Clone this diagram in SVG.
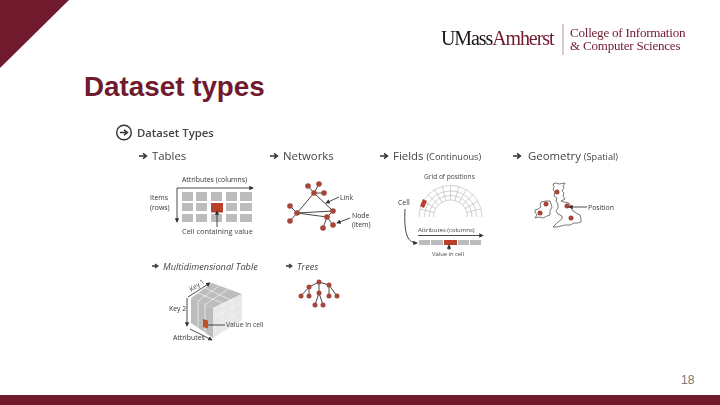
<svg xmlns="http://www.w3.org/2000/svg" width="720" height="405" viewBox="0 0 720 405">
<style>
.s{font-family:"Open Sans","Liberation Sans",sans-serif;fill:#444}
.h{font-size:11.400px}.c{font-size:9.200px}.t{font-size:6.900px;fill:#333}
.l{stroke:#333;stroke-width:.9;fill:none}
.g{fill:#bcbcbc}.r{fill:#b9412a}.n{fill:#a8443a}
.u{font-family:"Liberation Serif",serif}
</style>
<defs>
<marker id="a" viewBox="0 0 6 6" refX="5" refY="3" markerWidth="5" markerHeight="5" orient="auto"><path d="M0 0L6 3L0 6z" fill="#333"/></marker>
<path id="ar" d="M-4 0H2M0-2.600L3.500 0L0 2.600" fill="none" stroke="#333" stroke-width="1.400"/>
<path id="as" d="M-3 0H1.500M0-2L2.800 0L0 2" fill="none" stroke="#333" stroke-width="1.300"/>
<filter id="b" x="-5%" y="-5%" width="110%" height="110%"><feGaussianBlur stdDeviation="0.35"/></filter>
</defs>
<rect width="720" height="405" fill="#fff"/>
<path d="M0 0H69L0 68z" fill="#701a2e"/>
<rect y="395" width="720" height="10" fill="#701a2e"/>
<g id="logo" filter="url(#b)">
<text x="441" y="45" class="u" font-size="20" letter-spacing="-1.100" fill="#1c1216">UMass<tspan fill="#701a2e">Amherst</tspan></text>
<rect x="562.500" y="24" width="1" height="31" fill="#b09aa0"/>
<text x="570" y="37" class="u" font-size="13.100" letter-spacing="-.25" fill="#701a2e">College of Information</text>
<text x="570" y="50" class="u" font-size="13" letter-spacing="-.2" fill="#701a2e">&amp; Computer Sciences</text>
</g>
<text id="title" x="84" y="96" font-family="Liberation Sans,sans-serif" font-weight="700" font-size="27.800" fill="#701a2e">Dataset types</text>
<text id="page" x="681" y="384" font-family="Liberation Sans,sans-serif" font-size="12" fill="#777">18</text>
<g id="figure" filter="url(#b)">
<g id="heading"><circle cx="124" cy="132.500" r="7.300" fill="none" stroke="#333" stroke-width="1.400"/><use href="#ar" x="124" y="132.500"/><text x="137" y="137" class="s" font-size="11.300" font-weight="600">Dataset Types</text></g>
<g id="tables">
<use href="#ar" x="143" y="156"/><text x="152" y="160" class="s h">Tables</text>
<text x="182" y="182" class="s t">Attributes (columns)</text>
<text x="150" y="200" class="s t">Items</text><text x="150" y="210" class="s t">(rows)</text>
<path class="g" d="M182 192h11v9h-11zM196 192h11v9h-11zM211 192h11v9h-11zM226 192h11v9h-11zM240 192h12v9h-12zM182 203h11v8h-11zM196 203h11v8h-11zM226 203h11v8h-11zM240 203h12v8h-12zM182 214h11v8h-11zM196 214h11v8h-11zM211 214h11v8h-11zM226 214h11v8h-11zM240 214h12v8h-12z"/>
<rect x="211" y="203" width="12" height="9.500" class="r"/>
<path class="l" d="M177 188H253" marker-end="url(#a)"/><path class="l" d="M177 188V222" marker-end="url(#a)"/><path class="l" d="M217 227V211" marker-end="url(#a)"/>
<text x="182" y="234" class="s" font-size="7.400" fill="#333">Cell containing value</text>
</g>
<g id="networks">
<use href="#ar" x="274" y="156"/><text x="283" y="160" class="s h">Networks</text>
<path class="l" d="M314 193L297 213M314 193L333 211M297 213L333 211M297 213L327 217M297 213L290 206M297 213L290 221M314 193L308 186M314 193L319 184M314 193L324 193M327 217L333 211M327 217L323 228M327 217L333 225"/>
<g class="n"><circle cx="308" cy="186" r="2.800"/><circle cx="319" cy="184" r="2.800"/><circle cx="324" cy="193" r="2.800"/><circle cx="314" cy="193" r="2.800"/><circle cx="290" cy="206" r="2.800"/><circle cx="297" cy="213" r="2.800"/><circle cx="290" cy="221" r="2.800"/><circle cx="333" cy="211" r="2.800"/><circle cx="327" cy="217" r="2.800"/><circle cx="323" cy="228" r="2.800"/><circle cx="333" cy="225" r="2.800"/></g>
<path class="l" d="M339 197L326 203" marker-end="url(#a)"/><path class="l" d="M350 218L337 223" marker-end="url(#a)"/>
<text x="340" y="200" class="s t">Link</text><text x="352" y="218" class="s t">Node</text><text x="352" y="227" class="s t">(item)</text>
</g>
<g id="fields">
<use href="#ar" x="384" y="156"/><text x="393" y="160" class="s h">Fields <tspan font-size="9.200">(Continuous)</tspan></text>
<text x="424" y="179" class="s" font-size="6.600" fill="#333">Grid of positions</text>
<path d="M419 217a31.500 31.500 0 0 1 63 0M424.500 217a26 26 0 0 1 52 0M429 217a21.500 21.500 0 0 1 43 0M433.500 217a17 17 0 0 1 34 0M434.100 212.600L420.100 208.800M435.800 208.500L423.200 201.200M438.500 205L428.200 194.700M442 202.300L434.700 189.700M446.100 200.600L442.300 186.600M450.500 200V185.500M454.900 200.600L458.700 186.600M459 202.300L466.300 189.700M462.500 205L472.800 194.700M465.200 208.500L477.800 201.200M466.900 212.600L480.900 208.800" fill="none" stroke="#bdbdbd" stroke-width=".7"/>
<path d="M423 199l4 2-3 7-4-2z" class="r"/>
<text x="398" y="205" class="s t">Cell</text>
<text x="418" y="232" class="s" font-size="6" fill="#333">Attributes (columns)</text>
<path class="l" d="M418 235.500H483" marker-end="url(#a)"/>
<path class="g" d="M419 240h11v5h-11zM431 240h12v5h-12zM458 240h11v5h-11zM470 240h11v5h-11z"/><rect x="444" y="240" width="13" height="5" class="r"/>
<path class="l" d="M405 209C404 230 406 243 417 243" marker-end="url(#a)"/><path class="l" d="M449 250V245" marker-end="url(#a)"/>
<text x="432" y="256" class="s" font-size="5.800" fill="#333">Value in cell</text>
</g>
<g id="geometry">
<use href="#ar" x="517" y="156"/><text x="528" y="160" class="s h">Geometry <tspan font-size="9.200">(Spatial)</tspan></text>
<path d="M553 184L556 183L559 184L565 183L563 186L564 188L562 191L564 193L563 196L565 199L561 201L564 202L569 203L571 207L573 211L576 213L580 215L581 219L581 222L578 223L574 223L570 225L565 225L561 226L557 227L553 227L556 224L558 222L562 219L562 216L558 214L556 211L558 208L558 204L556 201L557 198L554 196L555 192L553 190L554 187zM541 202L546 201L550 201L551 204L552 207L550 211L550 215L547 216L543 218L539 217L535 218L537 215L535 212L535 210L538 209L541 207L540 205z" fill="#fff" stroke="#444" stroke-width=".7"/>
<g class="n"><circle cx="557" cy="192" r="2.500"/><circle cx="546" cy="204" r="2.500"/><circle cx="540" cy="213" r="2.500"/><circle cx="567" cy="206" r="2.500"/><circle cx="571" cy="218" r="2.500"/></g>
<path class="l" d="M587 207H569" marker-end="url(#a)"/><text x="588" y="209.500" class="s t">Position</text>
</g>
<g id="multi">
<use href="#as" x="155" y="266"/><text x="163" y="270" class="s c" font-style="italic">Multidimensional Table</text>
<path d="M191 298L212 283L242 294L213 308z" fill="#bdbdbd"/>
<path d="M191 298L213 308V338L191 323z" fill="#bcbcbc"/>
<path d="M213 308L242 294V320L213 338z" fill="#e8e8e8"/>
<path d="M198 301V328M205 304.500V333M222 304V332.500M232 299V326M213 318L242 303M213 328L242 311M198 293L227 305M205 288L235 302M219 286L198 301M228 289L205 304.500" stroke="#f4f4f4" stroke-width=".7" fill="none"/>
<path d="M203 319l5 1.500v8l-5-1.500z" fill="#c4502a"/>
<path class="l" d="M188 297L210 283" marker-end="url(#a)"/><path class="l" d="M187 298V326" marker-end="url(#a)"/><path class="l" d="M190 329L212 340" marker-end="url(#a)"/><path class="l" d="M225 325H208"/>
<text transform="translate(188 294) rotate(-34)" class="s" font-size="6.500" fill="#333" dx="4">Key 1</text>
<text x="169" y="311" class="s t">Key 2</text><text x="173" y="340" class="s t">Attributes</text><text x="226" y="327" class="s" font-size="6.800" fill="#333">Value in cell</text>
</g>
<g id="trees">
<use href="#as" x="289" y="266"/><text x="297" y="270" class="s c" font-style="italic">Trees</text>
<path class="l" d="M319 282L309 287L301 296M309 287V296M319 282L329 285M329 285V296M329 285L337 296M319 282V293L315 305M319 293L323 305"/>
<g class="n"><circle cx="319" cy="282" r="2.500"/><circle cx="309" cy="287" r="2.500"/><circle cx="329" cy="285" r="2.500"/><circle cx="301" cy="296" r="2.500"/><circle cx="309" cy="296" r="2.500"/><circle cx="319" cy="293" r="2.500"/><circle cx="329" cy="296" r="2.500"/><circle cx="337" cy="296" r="2.500"/><circle cx="315" cy="305" r="2.500"/><circle cx="323" cy="305" r="2.500"/></g>
</g>
</g>
</svg>
